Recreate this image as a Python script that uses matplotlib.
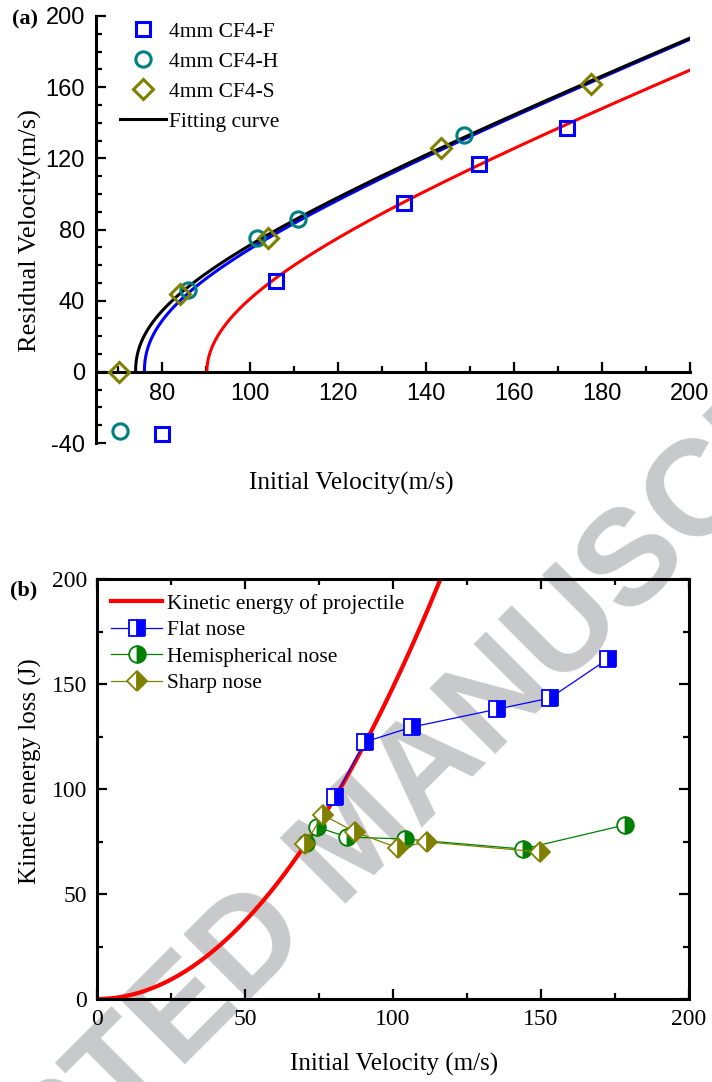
import numpy as np
import matplotlib.pyplot as plt
from matplotlib.ticker import MultipleLocator

plt.rcParams["axes.unicode_minus"] = False

# (a) residual vs initial velocity
f_vi = [80, 106, 135, 152, 172]
f_vr = [-35, 51, 95, 117, 137]
h_vi = [70.5, 86, 101.6, 111, 148.6]
h_vr = [-33, 46, 75, 86, 133]
s_vi = [70.2, 84, 104, 143.5, 177.5]
s_vr = [0, 44, 75.5, 126, 162]

# Lambert-Jonas fit parameters (ballistic limit, a, p)
fit_black = (74.0, 0.99, 2.2)
fit_blue = (76.0, 0.99, 2.2)
fit_red = (90.2, 0.95, 2.0)

# (b) kinetic energy loss
flat_v = [80.4, 90.5, 106.4, 135.1, 153, 172.6]
flat_e = [96.2, 122.4, 129.5, 138, 143.3, 161.9]
hemi_v = [70.6, 74.3, 84.5, 104, 143.9, 178.4]
hemi_e = [74.3, 81.9, 77.1, 76.2, 71.4, 82.9]
sharp_v = [70.3, 76.4, 87.2, 101.7, 111.5, 149.7]
sharp_e = [74, 87.6, 79.5, 71.9, 74.8, 70]
mass = 0.0297  # kg

serif = "Liberation Serif"
sans = "Liberation Sans"
blue, teal, olive, red, green = "#0000ff", "#008080", "#808000", "#ff0000", "#008000"


def lj_curve(vbl, a, p, vmax=200):
    t = np.linspace(0, 1, 400)
    v = vbl + (vmax - vbl) * t**2
    return v, a * (v**p - vbl**p) ** (1 / p)


fig = plt.figure(figsize=(7.12, 10.82), dpi=100)

# watermark behind everything
fig.text(358 / 712, 1 - 842 / 1082, "ACCEPTED MANUSCRIPT", fontsize=98,
         family=sans, weight="bold", color="#c8c9cb", rotation=45,
         rotation_mode="anchor", ha="center", va="center", zorder=-1)

# ---- panel (a) ----
ax1 = fig.add_axes([96 / 712, 1 - 443 / 1082, 594 / 712, 427 / 1082])
ax1.set_facecolor("none")
x, y = lj_curve(*fit_blue)
ax1.plot(x, y, color=blue, lw=2.2)
x, y = lj_curve(*fit_black)
ax1.plot(x, y, color="black", lw=2.2, label="Fitting curve")
x, y = lj_curve(*fit_red)
ax1.plot(x, y, color=red, lw=2.2)

ax1.plot(f_vi, f_vr, ls="none", marker="s", ms=10.5, mew=2.2, mfc="none",
         mec=blue, label="4mm CF4-F", zorder=5)
ax1.plot(h_vi, h_vr, ls="none", marker="o", ms=11, mew=2.2, mfc="none",
         mec=teal, label="4mm CF4-H", zorder=5)
ax1.plot(s_vi, s_vr, ls="none", marker="D", ms=10.5, mew=2.2, mfc="none",
         mec=olive, label="4mm CF4-S", zorder=5)

ax1.set_xlim(65, 200)
ax1.set_ylim(-40, 200)
ax1.spines["top"].set_visible(False)
ax1.spines["right"].set_visible(False)
ax1.spines["bottom"].set_position(("data", 0))
for s in ["left", "bottom"]:
    ax1.spines[s].set_linewidth(2.2)
ax1.set_xticks(range(80, 201, 20))
ax1.xaxis.set_minor_locator(MultipleLocator(10))
ax1.yaxis.set_major_locator(MultipleLocator(40))
ax1.yaxis.set_minor_locator(MultipleLocator(10))
ax1.tick_params(which="both", direction="in", width=1.6)
ax1.tick_params(which="major", length=7, pad=8, labelsize=17)
ax1.tick_params(which="minor", length=4)
for lab in ax1.get_xticklabels() + ax1.get_yticklabels():
    lab.set_family(sans)

ax1.set_xlabel("Initial Velocity(m/s)", family=serif, fontsize=18.3, va="center")
ax1.xaxis.set_label_coords(0.429, -0.094)
ax1.set_ylabel("Residual Velocity(m/s)", family=serif, fontsize=19, va="center")
ax1.yaxis.set_label_coords(-0.111, 0.497)

h, l = ax1.get_legend_handles_labels()
order = [1, 2, 3, 0]
ax1.legend([h[i] for i in order], [l[i] for i in order], loc="upper left",
           bbox_to_anchor=(0.04, 0.987), frameon=False,
           prop={"family": serif, "size": 15.5},
           handlelength=2.15, handletextpad=0.15, labelspacing=0.46,
           borderpad=0, borderaxespad=0)

# ---- panel (b) ----
ax2 = fig.add_axes([97 / 712, 1 - 999 / 1082, 592 / 712, 420 / 1082])
ax2.set_facecolor("none")
v = np.linspace(0, 200, 400)
ax2.plot(v, 0.5 * mass * v**2, color=red, lw=3, label="Kinetic energy of projectile")
ax2.plot(flat_v, flat_e, color=blue, lw=0.9, marker="s", ms=11, mew=1.3,
         mec=blue, mfc=blue, fillstyle="right", markerfacecoloralt="white",
         label="Flat nose")
ax2.plot(hemi_v, hemi_e, color=green, lw=0.9, marker="o", ms=12, mew=1.3,
         mec=green, mfc=green, fillstyle="right", markerfacecoloralt="white",
         label="Hemispherical nose")
ax2.plot(sharp_v, sharp_e, color=olive, lw=0.9, marker="D", ms=10.5, mew=1.3,
         mec=olive, mfc=olive, fillstyle="right", markerfacecoloralt="white",
         label="Sharp nose")

ax2.set_xlim(0, 200)
ax2.set_ylim(0, 200)
for s in ax2.spines.values():
    s.set_linewidth(2.2)
ax2.xaxis.set_major_locator(MultipleLocator(50))
ax2.xaxis.set_minor_locator(MultipleLocator(25))
ax2.yaxis.set_major_locator(MultipleLocator(50))
ax2.yaxis.set_minor_locator(MultipleLocator(25))
ax2.tick_params(which="both", direction="in", width=1.6, top=True, right=True)
ax2.tick_params(which="major", length=7, pad=7, labelsize=17)
ax2.tick_params(which="minor", length=4)
for lab in ax2.get_xticklabels() + ax2.get_yticklabels():
    lab.set_family(serif)

ax2.set_xlabel("Initial Velocity (m/s)", family=serif, fontsize=18, va="center")
ax2.xaxis.set_label_coords(0.502, -0.155)
ax2.set_ylabel("Kinetic energy loss (J)", family=serif, fontsize=18, va="center")
ax2.yaxis.set_label_coords(-0.113, 0.543)

ax2.legend(loc="upper left", bbox_to_anchor=(0.024, 0.965), frameon=False,
           prop={"family": serif, "size": 15.5}, handlelength=2.37,
           handletextpad=0.2, labelspacing=0.3, borderpad=0, borderaxespad=0)

fig.text(12 / 712, 1 - 19 / 1082, "(a)", family=serif, weight="bold", fontsize=16,
         ha="left", va="center")
fig.text(10 / 712, 1 - 590 / 1082, "(b)", family=serif, weight="bold", fontsize=16,
         ha="left", va="center")

fig.savefig("out.png", dpi=100)
